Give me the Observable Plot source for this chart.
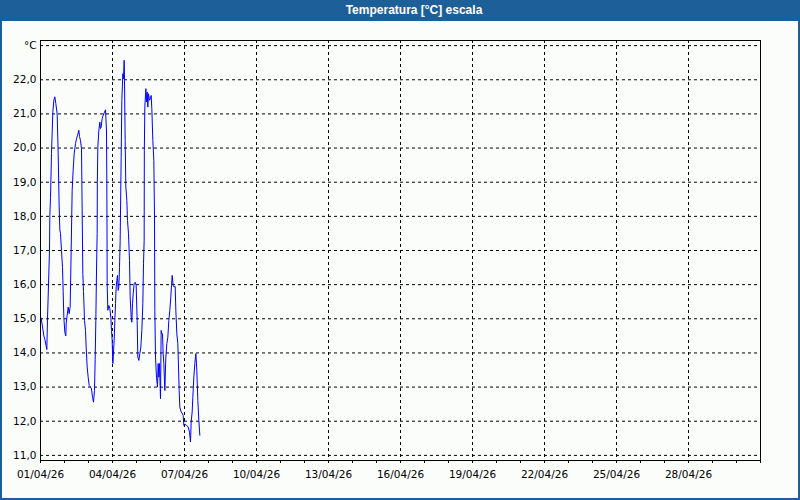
<!DOCTYPE html>
<html>
<head>
<meta charset="utf-8">
<script src="https://cdn.jsdelivr.net/npm/d3@7"></script>
<script src="https://cdn.jsdelivr.net/npm/@observablehq/plot@0.6"></script>
<style>
  html, body { margin: 0; padding: 0; background: #fbfdfb; }
  #wrap { position: relative; width: 800px; height: 500px; background: #fbfdfb; overflow: hidden; }
  #title { position: absolute; left: 0; top: 0; width: 800px; height: 21px; background: #1d5f98;
           color: #fff; font: bold 12px "Liberation Sans", Arial, sans-serif; line-height: 21px;
           text-align: center; box-sizing: border-box; padding-left: 28px; }
  .bl { position: absolute; left: 0; top: 21px; width: 2px; height: 479px; background: #1d5f98; }
  .br { position: absolute; right: 0; top: 21px; width: 2px; height: 479px; background: #1d5f98; }
  .bb { position: absolute; left: 0; bottom: 0; width: 800px; height: 2px; background: #1d5f98; }
  #chart { position: absolute; left: 0; top: 21px; }
</style>
</head>
<body>
<div id="wrap">
  <div id="title">Temperatura [°C] escala</div>
  <div id="chart"></div>
  <div class="bl"></div><div class="br"></div><div class="bb"></div>
</div>
<script>
const times = [
  "2026-04-01 00:40","2026-04-01 02:20","2026-04-01 03:20","2026-04-01 04:20","2026-04-01 05:40","2026-04-01 06:20",
  "2026-04-01 07:00","2026-04-01 08:00","2026-04-01 09:00","2026-04-01 09:20","2026-04-01 10:00","2026-04-01 11:00",
  "2026-04-01 12:20","2026-04-01 13:20","2026-04-01 14:20","2026-04-01 15:20","2026-04-01 16:40","2026-04-01 17:40",
  "2026-04-01 18:40","2026-04-01 19:20","2026-04-01 20:00","2026-04-01 21:00","2026-04-01 22:00","2026-04-01 22:40",
  "2026-04-01 23:20","2026-04-02 00:20","2026-04-02 01:20","2026-04-02 01:40","2026-04-02 02:40","2026-04-02 03:40",
  "2026-04-02 04:40","2026-04-02 05:40","2026-04-02 06:40","2026-04-02 07:40","2026-04-02 08:40","2026-04-02 09:40",
  "2026-04-02 11:00","2026-04-02 12:00","2026-04-02 13:00","2026-04-02 14:20","2026-04-02 15:00","2026-04-02 16:00",
  "2026-04-02 17:00","2026-04-02 18:20","2026-04-02 19:00","2026-04-02 20:00","2026-04-02 21:00","2026-04-02 21:40",
  "2026-04-02 22:40","2026-04-02 23:40","2026-04-03 00:40","2026-04-03 02:00","2026-04-03 03:00","2026-04-03 04:00",
  "2026-04-03 05:00","2026-04-03 06:00","2026-04-03 06:40","2026-04-03 07:20","2026-04-03 08:00","2026-04-03 08:40",
  "2026-04-03 08:50","2026-04-03 09:20","2026-04-03 10:20","2026-04-03 11:20","2026-04-03 12:00","2026-04-03 12:40",
  "2026-04-03 13:40","2026-04-03 14:40","2026-04-03 16:00","2026-04-03 17:00","2026-04-03 18:00","2026-04-03 18:20",
  "2026-04-03 18:30","2026-04-03 18:40","2026-04-03 19:20","2026-04-03 20:20","2026-04-03 21:20","2026-04-03 22:20",
  "2026-04-03 23:00","2026-04-03 23:40","2026-04-04 00:20","2026-04-04 01:00","2026-04-04 01:40","2026-04-04 02:20",
  "2026-04-04 03:00","2026-04-04 03:40","2026-04-04 04:20","2026-04-04 05:00","2026-04-04 05:40","2026-04-04 06:20",
  "2026-04-04 07:00","2026-04-04 07:40","2026-04-04 08:40","2026-04-04 09:20","2026-04-04 10:20","2026-04-04 11:00",
  "2026-04-04 11:40","2026-04-04 12:00","2026-04-04 12:40","2026-04-04 13:20","2026-04-04 14:20","2026-04-04 15:00",
  "2026-04-04 16:00","2026-04-04 17:00","2026-04-04 17:40","2026-04-04 18:40","2026-04-04 19:20","2026-04-04 20:00",
  "2026-04-04 20:40","2026-04-04 21:40","2026-04-04 22:40","2026-04-04 23:40","2026-04-05 00:40","2026-04-05 01:20",
  "2026-04-05 02:20","2026-04-05 03:20","2026-04-05 04:20","2026-04-05 05:20","2026-04-05 06:20","2026-04-05 07:00",
  "2026-04-05 07:40","2026-04-05 07:50","2026-04-05 08:20","2026-04-05 09:20","2026-04-05 10:00","2026-04-05 10:40",
  "2026-04-05 11:20","2026-04-05 12:00","2026-04-05 13:00","2026-04-05 14:00","2026-04-05 14:40","2026-04-05 15:20",
  "2026-04-05 16:20","2026-04-05 17:20","2026-04-05 18:00","2026-04-05 18:20","2026-04-05 19:00","2026-04-05 20:00",
  "2026-04-05 21:00","2026-04-05 21:40","2026-04-05 22:20","2026-04-05 23:00","2026-04-06 00:00","2026-04-06 00:40",
  "2026-04-06 01:20","2026-04-06 02:00","2026-04-06 02:40","2026-04-06 03:20","2026-04-06 04:20","2026-04-06 05:20",
  "2026-04-06 06:20","2026-04-06 07:20","2026-04-06 08:20","2026-04-06 09:20","2026-04-06 10:20","2026-04-06 11:00",
  "2026-04-06 11:40","2026-04-06 12:40","2026-04-06 13:40","2026-04-06 14:40","2026-04-06 15:20","2026-04-06 16:20",
  "2026-04-06 17:20","2026-04-06 18:00","2026-04-06 18:40","2026-04-06 19:20","2026-04-06 20:40","2026-04-06 21:40",
  "2026-04-06 22:40","2026-04-06 23:20","2026-04-07 00:20","2026-04-07 02:00","2026-04-07 03:40","2026-04-07 05:00",
  "2026-04-07 06:00","2026-04-07 06:40","2026-04-07 07:40","2026-04-07 08:20","2026-04-07 09:20","2026-04-07 10:20",
  "2026-04-07 11:20","2026-04-07 12:20","2026-04-07 13:20","2026-04-07 14:20","2026-04-07 15:20"
];
const temps = [
  15.02,14.7,14.5,14.4,14.2,14.1,
  15.0,16.0,17.0,18.0,18.56,19.84,
  21.05,21.4,21.5,21.3,21.0,19.85,
  18.3,17.6,17.5,17.0,16.5,15.8,
  15.05,14.6,14.5,14.85,15.1,15.34,
  15.15,15.36,17.0,18.76,19.35,19.83,
  20.13,20.27,20.37,20.52,20.34,20.22,
  19.98,16.3,15.8,14.95,14.66,14.17,
  13.59,13.29,13.05,13.0,12.95,12.7,
  12.56,12.9,13.8,14.95,16.4,17.5,
  19.0,20.03,20.52,20.76,20.57,20.61,
  20.86,20.96,21.05,21.12,20.5,18.96,
  17.6,16.0,15.25,15.39,15.3,15.05,
  14.66,14.37,13.69,14.02,14.37,14.95,
  15.44,15.93,16.12,16.27,15.83,15.93,
  16.51,17.3,19.73,21.4,22.18,22.03,
  22.57,21.98,20.22,18.86,18.47,17.88,
  17.49,16.71,15.64,15.05,14.9,15.44,
  15.73,16.03,16.07,15.98,14.95,13.88,
  13.78,13.98,14.17,14.66,15.44,16.61,
  17.3,19.93,21.2,21.74,21.35,21.64,
  21.2,21.59,21.4,21.45,21.54,21.15,
  20.22,19.64,17.98,15.25,13.88,13.29,
  13.0,13.69,13.29,13.69,12.66,14.66,
  14.56,14.56,13.98,13.69,12.9,13.88,
  14.27,14.46,14.95,15.25,15.64,15.98,
  16.27,15.98,15.93,15.95,15.25,14.56,
  14.27,13.59,12.9,12.41,12.27,12.24,
  12.17,11.88,11.91,11.88,11.83,11.68,
  11.39,11.98,12.27,12.7,13.29,13.69,
  13.98,13.49,12.61,12.02,11.59
];
const xLabelDates = ["2026-04-01","2026-04-04","2026-04-07","2026-04-10","2026-04-13","2026-04-16",
                     "2026-04-19","2026-04-22","2026-04-25","2026-04-28"];
const xLabels = ["01/04/26","04/04/26","07/04/26","10/04/26","13/04/26","16/04/26",
                 "19/04/26","22/04/26","25/04/26","28/04/26"];
const xDomain = ["2026-04-01","2026-05-01"];
const yTicks = [11,12,13,14,15,16,17,18,19,20,21,22,23];
const yLabels = ["11,0","12,0","13,0","14,0","15,0","16,0","17,0","18,0","19,0","20,0","21,0","22,0","°C"];
const yDomain = [10.85, 23.15];

const parseT = d3.utcParse("%Y-%m-%d %H:%M");
const parseD = d3.utcParse("%Y-%m-%d");
const data = times.map((t, i) => ({date: parseT(t), temp: temps[i]}));
const majors = xLabelDates.map(parseD);
const dom = xDomain.map(parseD);
const days = d3.utcDay.range(dom[0], d3.utcDay.offset(dom[1], 1));
const labelOf = new Map(majors.map((d, i) => [+d, xLabels[i]]));
const yLabelOf = new Map(yTicks.map((d, i) => [d, yLabels[i]]));

const chart = Plot.plot({
  width: 800,
  height: 479,
  marginLeft: 40,
  marginRight: 40,
  marginTop: 19,
  marginBottom: 40,
  style: {background: "transparent", fontFamily: "'DejaVu Sans', sans-serif", fontSize: "10px", color: "#000"},
  x: {type: "utc", domain: dom, label: null},
  y: {domain: yDomain, label: null},
  marks: [
    Plot.gridY(yTicks, {stroke: "#000", strokeOpacity: 1, strokeDasharray: "3,3"}),
    Plot.gridX(majors.slice(1), {stroke: "#000", strokeOpacity: 1, strokeDasharray: "3,3"}),
    Plot.axisY(yTicks, {tickSize: 0, tickPadding: 4, tickFormat: d => yLabelOf.get(d), fill: "#000", fontSize: 10.5, label: null}),
    Plot.axisX(days, {tickSize: 3, tickFormat: () => "", stroke: "#000", label: null}),
    Plot.axisX(majors, {tickSize: 0, tickPadding: 10, tickFormat: d => labelOf.get(+d), fill: "#000", fontSize: 10.5, label: null}),
    Plot.line(data, {x: "date", y: "temp", stroke: "#0000ff", strokeWidth: 1}),
    Plot.frame({stroke: "#000", strokeWidth: 1})
  ]
});
document.getElementById("chart").appendChild(chart);
</script>
</body>
</html>
